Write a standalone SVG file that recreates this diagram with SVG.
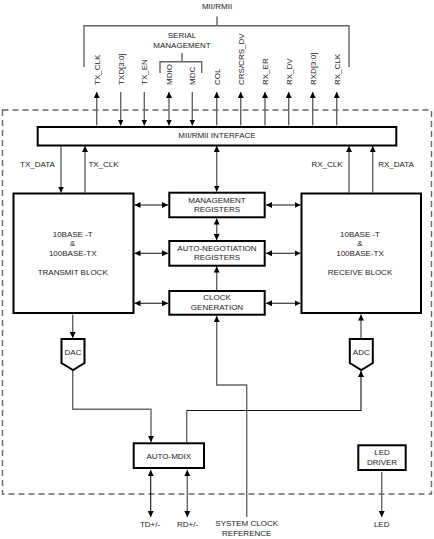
<svg xmlns="http://www.w3.org/2000/svg" width="434" height="539" viewBox="0 0 434 539">
<defs>
<style>
text{font-family:"Liberation Sans",Arial,sans-serif;font-size:8px;fill:#222;text-anchor:middle}
.box{fill:#fff;stroke:#000;stroke-width:2}
.ln{fill:none;stroke:#666;stroke-width:1.4}
.blk{fill:none;stroke:#111;stroke-width:1.1}
.dash{fill:none;stroke:#666;stroke-width:1.4;stroke-dasharray:6 4}
.rot{text-anchor:start}
</style>
<marker id="ah" markerUnits="userSpaceOnUse" markerWidth="7" markerHeight="7" refX="6" refY="3" orient="auto-start-reverse">
<path d="M0,0 L6,3 L0,6 z" fill="#000"/>
</marker>
</defs>
<rect width="434" height="539" fill="#fff"/>
<g id="boundary">
<rect class="dash" x="2.5" y="110" width="429" height="384"/>
</g>
<g id="labels-top">
<text x="217" y="9">MII/RMII</text>
<text x="182" y="38">SERIAL</text>
<text x="182" y="48">MANAGEMENT</text>
<path class="ln" d="M84,67 V25.7 H349 V67 M217,16.5 V25.7"/>
<path class="ln" d="M160,73 V61.7 H201.7 V73 M182,53 V61.7"/>
<text class="rot" transform="translate(99.6,85) rotate(-90)">TX_CLK</text>
<text class="rot" transform="translate(123.6,85) rotate(-90)">TXD[3:0]</text>
<text class="rot" transform="translate(147.3,85) rotate(-90)">TX_EN</text>
<text class="rot" transform="translate(172,85) rotate(-90)">MDIO</text>
<text class="rot" transform="translate(195.2,85) rotate(-90)">MDC</text>
<text class="rot" transform="translate(219.6,85) rotate(-90)">COL</text>
<text class="rot" transform="translate(243.6,85) rotate(-90)">CRS/CRS_DV</text>
<text class="rot" transform="translate(268,85) rotate(-90)">RX_ER</text>
<text class="rot" transform="translate(291.6,85) rotate(-90)">RX_DV</text>
<text class="rot" transform="translate(315.6,85) rotate(-90)">RXD[3:0]</text>
<text class="rot" transform="translate(339.6,85) rotate(-90)">RX_CLK</text>
</g>
<g id="connectors">
<line class="ln" x1="96.7" y1="125.5" x2="96.7" y2="92" marker-end="url(#ah)"/>
<line class="ln" x1="120.7" y1="92" x2="120.7" y2="125.5" marker-end="url(#ah)"/>
<line class="ln" x1="144.3" y1="92" x2="144.3" y2="125.5" marker-end="url(#ah)"/>
<line class="ln" x1="169" y1="92" x2="169" y2="125.5" marker-start="url(#ah)" marker-end="url(#ah)"/>
<line class="ln" x1="192.3" y1="92" x2="192.3" y2="125.5" marker-end="url(#ah)"/>
<line class="ln" x1="216.7" y1="125.5" x2="216.7" y2="92" marker-end="url(#ah)"/>
<line class="ln" x1="240.7" y1="125.5" x2="240.7" y2="92" marker-end="url(#ah)"/>
<line class="ln" x1="265" y1="125.5" x2="265" y2="92" marker-end="url(#ah)"/>
<line class="ln" x1="288.7" y1="125.5" x2="288.7" y2="92" marker-end="url(#ah)"/>
<line class="ln" x1="312.7" y1="125.5" x2="312.7" y2="92" marker-end="url(#ah)"/>
<line class="ln" x1="336.7" y1="125.5" x2="336.7" y2="92" marker-end="url(#ah)"/>
<line class="ln" x1="61" y1="146" x2="61" y2="192.5" marker-end="url(#ah)"/>
<line class="ln" x1="85" y1="192.5" x2="85" y2="146" marker-end="url(#ah)"/>
<line class="ln" x1="349" y1="192.5" x2="349" y2="146" marker-end="url(#ah)"/>
<line class="ln" x1="372.7" y1="192.5" x2="372.7" y2="146" marker-end="url(#ah)"/>
<line class="ln" x1="216.7" y1="146" x2="216.7" y2="191.5" marker-start="url(#ah)" marker-end="url(#ah)"/>
<line class="ln" x1="216.7" y1="218.5" x2="216.7" y2="240" marker-start="url(#ah)" marker-end="url(#ah)"/>
<line class="ln" x1="216.7" y1="290" x2="216.7" y2="266.5" marker-end="url(#ah)"/>
<line class="blk" x1="134.5" y1="205" x2="168" y2="205" marker-start="url(#ah)" marker-end="url(#ah)"/>
<line class="blk" x1="134.5" y1="253.3" x2="168" y2="253.3" marker-start="url(#ah)" marker-end="url(#ah)"/>
<line class="blk" x1="134.5" y1="303.3" x2="168" y2="303.3" marker-start="url(#ah)" marker-end="url(#ah)"/>
<line class="blk" x1="266" y1="205" x2="300.5" y2="205" marker-start="url(#ah)" marker-end="url(#ah)"/>
<line class="blk" x1="266" y1="253.3" x2="300.5" y2="253.3" marker-start="url(#ah)" marker-end="url(#ah)"/>
<line class="blk" x1="266" y1="303.3" x2="300.5" y2="303.3" marker-start="url(#ah)" marker-end="url(#ah)"/>
<path class="ln" d="M246.7,517 V385 H216.7 V316" marker-end="url(#ah)"/>
<line class="ln" x1="72.7" y1="314.5" x2="72.7" y2="338" marker-end="url(#ah)"/>
<line class="ln" x1="361" y1="338" x2="361" y2="314.5" marker-end="url(#ah)"/>
<path class="ln" d="M72.7,371 V409.3 H151 V442" marker-end="url(#ah)"/>
<path class="ln" d="M186.7,442 V410.5"/>
<path class="blk" d="M186.7,410.5 H361 V371" marker-end="url(#ah)"/>
<line class="blk" x1="150.7" y1="470" x2="150.7" y2="517" marker-start="url(#ah)" marker-end="url(#ah)"/>
<line class="ln" x1="187.3" y1="470" x2="187.3" y2="517" marker-start="url(#ah)" marker-end="url(#ah)"/>
<line class="ln" x1="381.7" y1="472" x2="381.7" y2="517" marker-end="url(#ah)"/>
</g>
<g id="mii">
<rect class="box" x="37.7" y="127" width="358.6" height="18.5"/>
<text x="217" y="138">MII/RMII INTERFACE</text>
<text x="37.5" y="167">TX_DATA</text>
<text x="103.5" y="167">TX_CLK</text>
<text x="327" y="167">RX_CLK</text>
<text x="396" y="167">RX_DATA</text>
</g>
<g id="transmit">
<rect class="box" x="13.5" y="193.5" width="120" height="119.5"/>
<text x="72.7" y="237.2">10BASE -T</text>
<text x="72.7" y="246.2">&amp;</text>
<text x="72.7" y="256.2">100BASE-TX</text>
<text x="72.7" y="275.2">TRANSMIT BLOCK</text>
</g>
<g id="receive">
<rect class="box" x="301.5" y="193.5" width="119.5" height="119.5"/>
<text x="360" y="237.2">10BASE -T</text>
<text x="360" y="246.2">&amp;</text>
<text x="360" y="256.2">100BASE-TX</text>
<text x="360" y="275.2">RECEIVE BLOCK</text>
</g>
<g id="mgmt">
<rect class="box" x="169.3" y="192.7" width="95.4" height="24.6"/>
<text x="217" y="202.9">MANAGEMENT</text>
<text x="217" y="212.2">REGISTERS</text>
</g>
<g id="autoneg">
<rect class="box" x="169.3" y="241" width="95.4" height="24.7"/>
<text x="217" y="250.6">AUTO-NEGOTIATION</text>
<text x="217" y="260.2">REGISTERS</text>
</g>
<g id="clock">
<rect class="box" x="169.3" y="291" width="95.4" height="23.7"/>
<text x="217" y="299.6">CLOCK</text>
<text x="217" y="309.6">GENERATION</text>
</g>
<g id="dac">
<polygon class="box" points="61.5,339 84.5,339 84.5,363 73,370 61.5,363"/>
<text x="73" y="354.5">DAC</text>
</g>
<g id="adc">
<polygon class="box" points="349.8,339 372.8,339 372.8,363 361.3,370 349.8,363"/>
<text x="361.3" y="354.5">ADC</text>
</g>
<g id="automdix">
<rect class="box" x="133.7" y="443.3" width="70.3" height="24.7"/>
<text x="168.8" y="458.5">AUTO-MDIX</text>
</g>
<g id="led">
<rect class="box" x="358.3" y="445.3" width="47.4" height="24.7"/>
<text x="382" y="455.2">LED</text>
<text x="382" y="464.8">DRIVER</text>
</g>
<g id="labels-bottom">
<text x="150" y="527">TD+/-</text>
<text x="187.5" y="527">RD+/-</text>
<text x="246.7" y="526">SYSTEM CLOCK</text>
<text x="246.7" y="536">REFERENCE</text>
<text x="381.7" y="527">LED</text>
</g>
</svg>
